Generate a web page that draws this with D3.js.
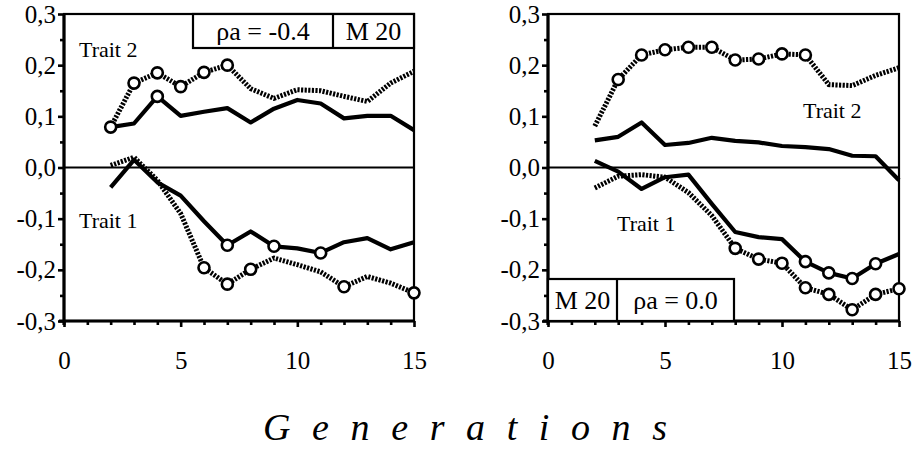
<!DOCTYPE html>
<html>
<head>
<meta charset="utf-8">
<script src="https://cdn.jsdelivr.net/npm/d3@7"></script>
<style>
  body { margin: 0; background: #fff; }
  text { font-family: "Liberation Serif", "Times New Roman", serif; fill: #000; }
  .solid { fill: none; stroke: #000; stroke-width: 4.2; stroke-linejoin: round; }
  .dotted { fill: none; stroke: #000; stroke-width: 5; stroke-dasharray: 2.2,1.4; }
  .mark { fill: #fff; stroke: #000; stroke-width: 2.6; }
</style>
</head>
<body>
<svg id="chart" width="916" height="449"></svg>
<script>
// generations shown on both panels
var gens = [2, 3, 4, 5, 6, 7, 8, 9, 10, 11, 12, 13, 14, 15];

// left panel, rho a = -0.4
var leftT2Dotted = [0.079, 0.165, 0.185, 0.158, 0.186, 0.200, 0.154, 0.135, 0.152, 0.150, 0.139, 0.129, 0.165, 0.188];
var leftT2Solid  = [0.079, 0.086, 0.139, 0.101, 0.109, 0.116, 0.088, 0.115, 0.132, 0.125, 0.096, 0.101, 0.101, 0.073];
var leftT1Solid  = [-0.039, 0.015, -0.029, -0.055, -0.105, -0.152, -0.125, -0.154, -0.158, -0.167, -0.146, -0.138, -0.160, -0.146];
var leftT1Dotted = [0.004, 0.020, -0.025, -0.090, -0.196, -0.228, -0.199, -0.177, -0.190, -0.204, -0.233, -0.213, -0.226, -0.245];

// right panel, rho a = 0.0
var rightT2Dotted = [0.081, 0.172, 0.220, 0.230, 0.235, 0.235, 0.210, 0.212, 0.222, 0.220, 0.162, 0.160, 0.180, 0.195];
var rightT2Solid  = [0.053, 0.060, 0.088, 0.044, 0.048, 0.058, 0.052, 0.049, 0.042, 0.040, 0.036, 0.023, 0.022, -0.025];
var rightT1Solid  = [0.013, -0.008, -0.042, -0.019, -0.014, -0.071, -0.126, -0.136, -0.140, -0.184, -0.206, -0.217, -0.188, -0.169];
var rightT1Dotted = [-0.040, -0.017, -0.014, -0.019, -0.049, -0.094, -0.158, -0.179, -0.187, -0.235, -0.248, -0.278, -0.248, -0.237];

// generations that carry an open circle
var leftT2DottedMarks  = [2, 3, 4, 5, 6, 7];
var leftT2SolidMarks   = [4];
var leftT1SolidMarks   = [7, 9, 11];
var leftT1DottedMarks  = [6, 7, 8, 12, 15];
var rightT2DottedMarks = [3, 4, 5, 6, 7, 8, 9, 10, 11];
var rightT1SolidMarks  = [11, 12, 13, 14];
var rightT1DottedMarks = [8, 9, 10, 11, 12, 13, 14, 15];

var yMajor = [-0.3, -0.2, -0.1, 0.0, 0.1, 0.2, 0.3];
var yMinor = [-0.25, -0.15, -0.05, 0.05, 0.15, 0.25];
var xMajor = [0, 5, 10, 15];
var xMinor = [1, 2, 3, 4, 6, 7, 8, 9, 11, 12, 13, 14];

var serif = "'Liberation Serif', 'Times New Roman', serif";
var svg = d3.select("#chart");
var top_y = 14, bottom_y = 321;

var panels = [
  { x0: 64, x1: 414,
    series: [
      { v: leftT2Dotted, cls: "dotted", marks: leftT2DottedMarks },
      { v: leftT2Solid,  cls: "solid",  marks: leftT2SolidMarks },
      { v: leftT1Dotted, cls: "dotted", marks: leftT1DottedMarks },
      { v: leftT1Solid,  cls: "solid",  marks: leftT1SolidMarks }
    ],
    traits: [ { t: "Trait 2", x: 79, y: 57 }, { t: "Trait 1", x: 79, y: 228 } ],
    box: { x: 193, y: 14, w: 221, h: 34, split: 140,
           left: "\u03C1a = -0.4", right: "M 20" } },
  { x0: 548, x1: 899,
    series: [
      { v: rightT2Dotted, cls: "dotted", marks: rightT2DottedMarks },
      { v: rightT2Solid,  cls: "solid",  marks: [] },
      { v: rightT1Dotted, cls: "dotted", marks: rightT1DottedMarks },
      { v: rightT1Solid,  cls: "solid",  marks: rightT1SolidMarks }
    ],
    traits: [ { t: "Trait 2", x: 803, y: 118 }, { t: "Trait 1", x: 617, y: 231 } ],
    box: { x: 548, y: 279, w: 186, h: 42, split: 69,
           left: "M 20", right: "\u03C1a = 0.0" } }
];

var fmt = d => d3.format(".1f")(d).replace(".", ",").replace("−", "-");

panels.forEach(function(p) {
  var x = d3.scaleLinear().domain([0, 15]).range([p.x0, p.x1]);
  var y = d3.scaleLinear().domain([-0.3, 0.3]).range([bottom_y, top_y]);
  var g = svg.append("g");

  // frame
  g.append("rect")
   .attr("x", p.x0).attr("y", top_y)
   .attr("width", p.x1 - p.x0).attr("height", bottom_y - top_y)
   .attr("fill", "none").attr("stroke", "#000").attr("stroke-width", 2.2);

  // zero line
  g.append("line")
   .attr("x1", p.x0).attr("x2", p.x1)
   .attr("y1", y(0)).attr("y2", y(0))
   .attr("stroke", "#000").attr("stroke-width", 1.8);

  // y axis
  g.append("g").attr("transform", "translate(" + p.x0 + ",0)")
    .call(d3.axisLeft(y).tickValues(yMajor).tickSize(6).tickPadding(2).tickFormat(fmt));
  g.append("g").attr("transform", "translate(" + p.x0 + ",0)")
    .call(d3.axisLeft(y).tickValues(yMinor).tickSize(4).tickFormat(""));

  // x axis
  g.append("g").attr("transform", "translate(0," + bottom_y + ")")
    .call(d3.axisBottom(x).tickValues(xMajor).tickSize(6).tickPadding(24));
  g.append("g").attr("transform", "translate(0," + bottom_y + ")")
    .call(d3.axisBottom(x).tickValues(xMinor).tickSize(4).tickFormat(""));

  g.selectAll(".domain").remove();
  g.selectAll(".tick line").attr("stroke-width", 2.6);
  g.selectAll(".tick text")
   .attr("font-family", serif)
   .style("font-size", "25px");

  // heavier axis lines that overshoot the corner a little
  g.append("line").attr("x1", p.x0).attr("x2", p.x0)
   .attr("y1", top_y).attr("y2", bottom_y + 4)
   .attr("stroke", "#000").attr("stroke-width", 3.2);
  g.append("line").attr("x1", p.x0 - 5).attr("x2", p.x1)
   .attr("y1", bottom_y).attr("y2", bottom_y)
   .attr("stroke", "#000").attr("stroke-width", 3.2);

  var line = d3.line()
    .x((d, i) => x(gens[i]))
    .y(d => y(d));

  p.series.forEach(function(s) {
    g.append("path").datum(s.v).attr("class", s.cls).attr("d", line);
  });
  p.series.forEach(function(s) {
    g.selectAll(null)
     .data(s.marks)
     .enter()
     .append("circle")
     .attr("class", "mark")
     .attr("cx", d => x(d))
     .attr("cy", d => y(s.v[gens.indexOf(d)]))
     .attr("r", 5.5);
  });

  // trait labels
  p.traits.forEach(function(t) {
    g.append("text").attr("x", t.x).attr("y", t.y)
     .style("font-size", "22px").text(t.t);
  });

  // parameter box
  var b = p.box;
  g.append("rect").attr("x", b.x).attr("y", b.y)
   .attr("width", b.w).attr("height", b.h)
   .attr("fill", "#fff").attr("stroke", "#000").attr("stroke-width", 2.2);
  g.append("line").attr("x1", b.x + b.split).attr("x2", b.x + b.split)
   .attr("y1", b.y).attr("y2", b.y + b.h)
   .attr("stroke", "#000").attr("stroke-width", 2.2);
  var by = b.y + b.h / 2 + 9;
  g.append("text").attr("x", b.x + b.split / 2).attr("y", by)
   .attr("text-anchor", "middle").style("font-size", "26px").text(b.left);
  g.append("text").attr("x", b.x + b.split + (b.w - b.split) / 2).attr("y", by)
   .attr("text-anchor", "middle").style("font-size", "26px").text(b.right);
});

// shared x label
svg.append("text")
   .attr("x", 263).attr("y", 440)
   .attr("textLength", 404).attr("lengthAdjust", "spacing")
   .style("font-size", "38px").style("font-style", "italic")
   .text("Generations");
</script>
</body>
</html>
